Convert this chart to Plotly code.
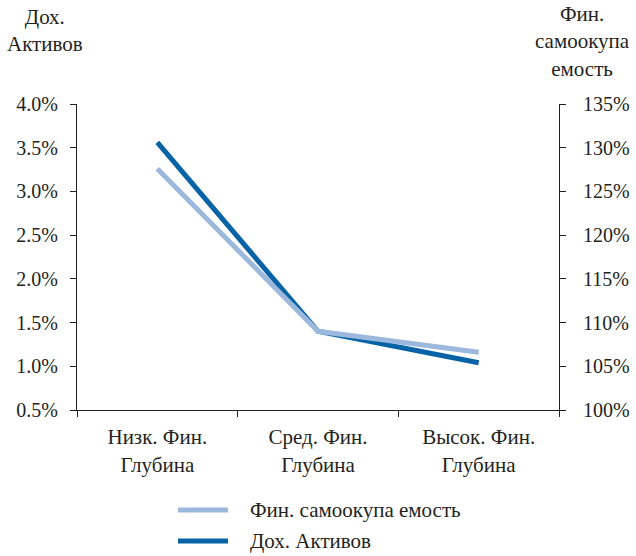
import plotly.graph_objects as go

# Categories and series values
categories = ["Низк. Фин.<br>Глубина", "Сред. Фин.<br>Глубина", "Высок. Фин.<br>Глубина"]
self_sufficiency = [127.6, 109.0, 106.6]   # Фин. самоокупа емость, %
return_on_assets = [3.56, 1.40, 1.04]      # Дох. Активов, %

left_ticks = [0.5, 1.0, 1.5, 2.0, 2.5, 3.0, 3.5, 4.0]
right_ticks = [100, 105, 110, 115, 120, 125, 130, 135]

FONT = "Liberation Serif"
TXT = "#231f20"
LIGHT = "#9db8dd"
DARK = "#0563a6"

series = [
    dict(name="Фин. самоокупа емость", y=self_sufficiency, axis="y2", color=LIGHT),
    dict(name="Дох. Активов", y=return_on_assets, axis="y", color=DARK),
]

fig = go.Figure()
for s in series:
    fig.add_trace(go.Scatter(
        x=categories, y=s["y"], yaxis=s["axis"], mode="lines",
        name=s["name"], showlegend=False,
        line=dict(color=s["color"], width=5),
    ))

axis_common = dict(
    showgrid=False, zeroline=False, showline=True, linecolor=TXT, linewidth=1,
    ticks="outside", ticklen=6, tickcolor=TXT, tickwidth=1, automargin=False,
    tickfont=dict(family=FONT, size=20, color=TXT),
)

# Legend keys drawn below the plot area (paper coordinates)
shapes = []
annotations = []
for i, s in enumerate(series):
    y = -0.327 - i * 0.101
    shapes.append(dict(type="line", xref="paper", yref="paper",
                       x0=0.2095, x1=0.3133, y0=y, y1=y,
                       line=dict(color=s["color"], width=5)))
    annotations.append(dict(text=s["name"], xref="paper", yref="paper",
                            x=0.3548, y=y, xanchor="left", yanchor="middle",
                            showarrow=False,
                            font=dict(family=FONT, size=21, color=TXT)))

# Axis titles above each y axis
annotations += [
    dict(text="Дох.<br>Активов", xref="paper", yref="paper",
         x=-0.066, y=1.239, xanchor="center", yanchor="middle",
         showarrow=False, align="center",
         font=dict(family=FONT, size=21, color=TXT)),
    dict(text="Фин.<br>самоокупа<br>емость", xref="paper", yref="paper",
         x=1.048, y=1.203, xanchor="center", yanchor="middle",
         showarrow=False, align="center",
         font=dict(family=FONT, size=21, color=TXT)),
]

fig.update_layout(
    width=636, height=556,
    margin=dict(l=77, r=77, t=104, b=146),
    paper_bgcolor="white", plot_bgcolor="white",
    font=dict(family=FONT, size=20, color=TXT),
    xaxis=dict(**{**axis_common, "tickfont": dict(family=FONT, size=21, color=TXT)},
               type="category", range=[-0.5, 2.5],
               tickson="boundaries", ticklabelstandoff=8),
    yaxis=dict(**axis_common, range=[0.5, 4.0], tickvals=left_ticks,
               ticktext=[f"{v:.1f}%" for v in left_ticks], ticklabelstandoff=8),
    yaxis2=dict(**axis_common, range=[100, 135], overlaying="y", side="right",
                tickvals=right_ticks, ticktext=[f"{v}%" for v in right_ticks],
                ticklabelstandoff=13),
    showlegend=False,
    shapes=shapes,
    annotations=annotations,
)

fig.write_html("out.html")
